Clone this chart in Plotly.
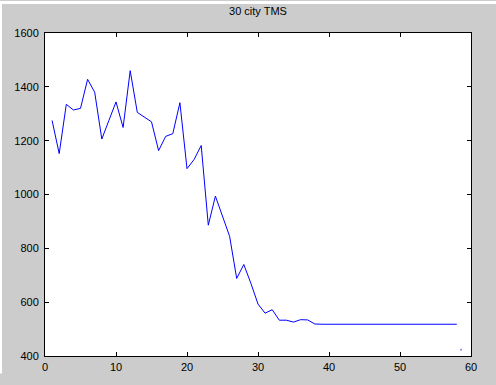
import plotly.graph_objects as go

title_text = "30 city TMS"
iterations = list(range(1, 59))
tour_length = [
    1275, 1152, 1335, 1314, 1320, 1428, 1380, 1206, 1275, 1344,
    1249, 1460, 1305, 1286, 1270, 1163, 1216, 1226, 1341, 1096,
    1130, 1182, 886, 994, 920, 845, 688, 740, 670, 593,
    559, 572, 533, 533, 526, 535, 534, 519, 518, 518,
    518, 518, 518, 518, 518, 518, 518, 518, 518, 518,
    518, 518, 518, 518, 518, 518, 518, 518,
]
stray_x = [58.6]
stray_y = [423]
x_ticks = [0, 10, 20, 30, 40, 50, 60]
y_ticks = [400, 600, 800, 1000, 1200, 1400, 1600]

W, H = 496, 385
L, R, T, B = 45, 25, 33, 18
pw, ph = W - L - R, H - T - B

fig = go.Figure()
fig.add_trace(go.Scatter(x=iterations, y=tour_length, mode="lines",
                         line=dict(color="#0000ff", width=1), showlegend=False,
                         hoverinfo="skip"))
fig.add_trace(go.Scatter(x=stray_x, y=stray_y, mode="markers",
                         marker=dict(color="#8080ff", size=2), showlegend=False,
                         hoverinfo="skip"))

axis_common = dict(showgrid=False, zeroline=False, showline=True, linecolor="black",
                   linewidth=1, ticks="inside", ticklen=4, tickcolor="black",
                   mirror="ticks", tickfont=dict(family="Liberation Sans, Arial", size=11, color="black"))

fig.update_layout(
    width=W, height=H,
    margin=dict(l=L, r=R, t=T, b=B, pad=0),
    paper_bgcolor="#cccccc", plot_bgcolor="white",
    title=dict(text=title_text, x=(L + pw / 2) / W, xanchor="center",
               y=1 - 11 / H, yanchor="middle", yref="container",
               font=dict(family="Liberation Sans, Arial", size=11, color="black")),
    xaxis=dict(range=[0, 60], tickvals=x_ticks, ticktext=[str(v) for v in x_ticks],
               ticklabelstandoff=1, **axis_common),
    yaxis=dict(range=[400, 1600], tickvals=y_ticks, ticktext=[str(v) for v in y_ticks],
               ticklabelstandoff=3, **axis_common),
    shapes=[
        dict(type="rect", xref="paper", yref="paper", x0=-L / pw, x1=(W - L) / pw,
             y0=1 + (T - 3) / ph, y1=1 + T / ph, fillcolor="white", line_width=0),
        dict(type="rect", xref="paper", yref="paper", x0=-L / pw, x1=(-L + 2) / pw,
             y0=-B / ph, y1=1 + T / ph, fillcolor="white", line_width=0),
    ],
)

fig.write_html("out.html")
